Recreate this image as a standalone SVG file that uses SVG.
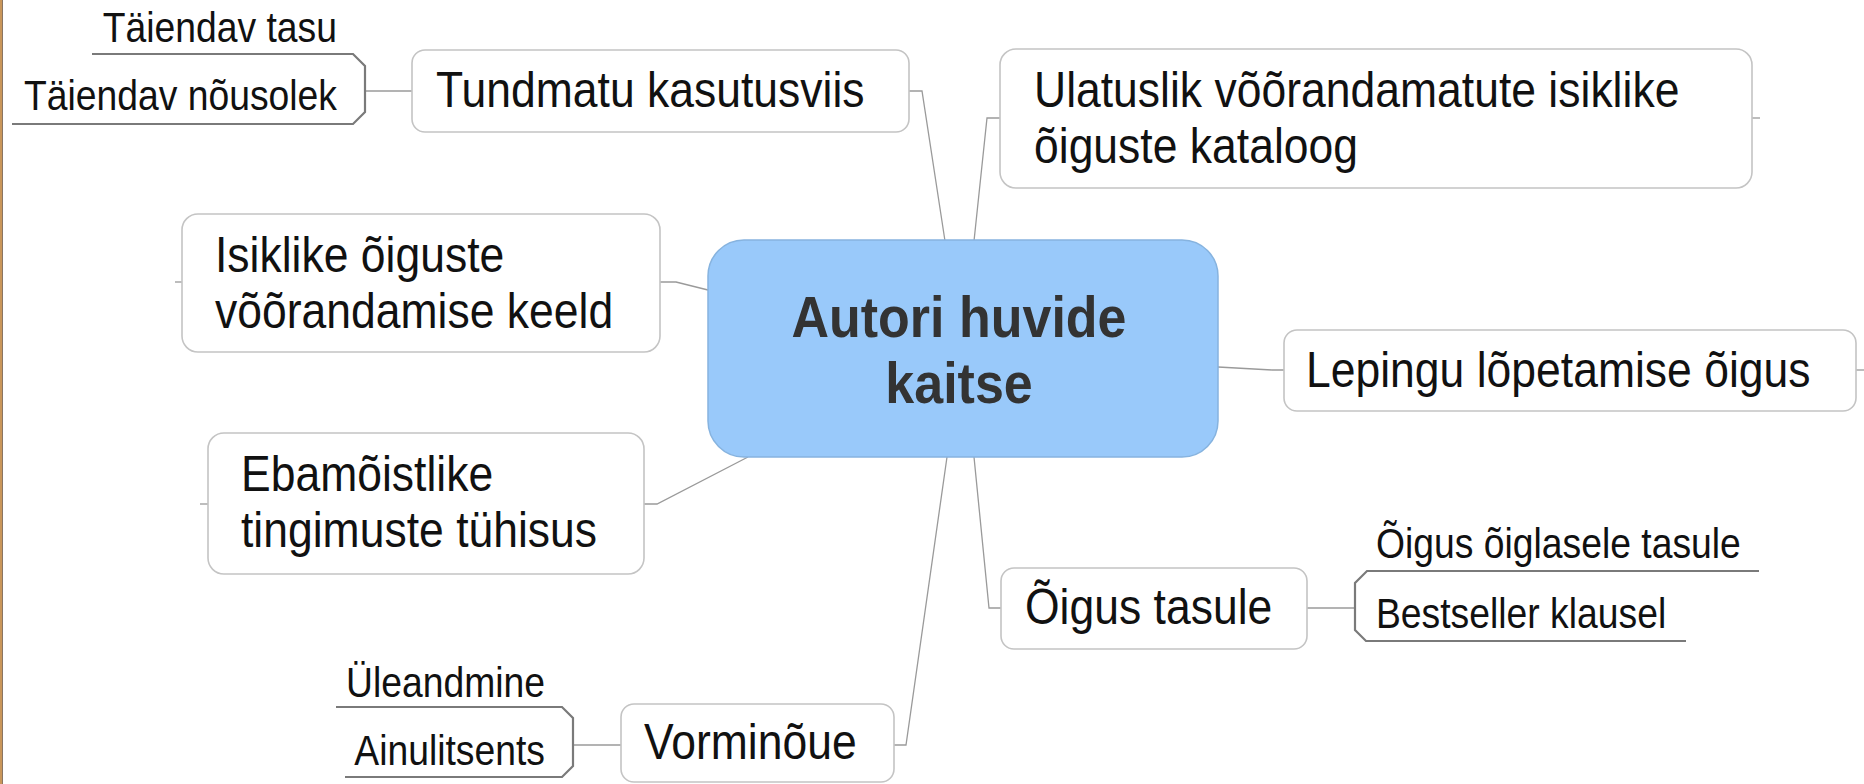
<svg xmlns="http://www.w3.org/2000/svg" width="1864" height="784" viewBox="0 0 1864 784">
<style>
.bg{fill:#ffffff}
.node rect{fill:#ffffff;stroke:#c4c4c4;stroke-width:1.6}
.node text{font-family:"Liberation Sans",Arial,sans-serif;font-size:44.5px;fill:#111111}
.child text{font-family:"Liberation Sans",Arial,sans-serif;font-size:37.3px;fill:#111111}
.child path{fill:none;stroke:#7a7a7a;stroke-width:2.2}
.conn path{fill:none;stroke:#9a9a9a;stroke-width:1.3}
.stub{fill:none;stroke:#808080;stroke-width:2}
#center rect{fill:#99c9fa;stroke:#86b3df;stroke-width:1.5}
#center text{font-family:"Liberation Sans",Arial,sans-serif;font-size:52px;font-weight:bold;fill:#333333;text-anchor:middle}
</style>
<rect class="bg" x="0" y="0" width="1864" height="784"/>
<rect x="0" y="0" width="2" height="784" fill="#c9965a"/>
<rect x="2" y="0" width="1" height="784" fill="#8a7563"/>

<g id="connectors" class="conn">
  <path d="M945,241 L922,91 H909"/>
  <path d="M974,241 L987,118 H1000"/>
  <path d="M708,290 L676,282 H660"/>
  <path d="M1218,367 L1272,370 H1284"/>
  <path d="M748,457 L657,504 H644"/>
  <path d="M974,457 L989,608 H1001"/>
  <path d="M947,457 L906,745 H894"/>
  <path class="stub" d="M1752,118 H1760"/>
  <path class="stub" d="M182,282 H175"/>
  <path class="stub" d="M1856,370 H1864"/>
  <path class="stub" d="M208,504 H200"/>
  <path class="stub" d="M412,91 H366"/>
  <path class="stub" d="M1307,608 H1355"/>
  <path class="stub" d="M621,745 H573"/>
</g>

<g id="center">
  <rect x="708" y="240" width="510" height="217" rx="36" ry="36"/>
  <text transform="translate(959,337) scale(1,1.12)">Autori huvide</text>
  <text transform="translate(959,403) scale(1,1.12)">kaitse</text>
</g>

<g id="n-tundmatu" class="node">
  <rect x="412" y="50" width="497" height="82" rx="13"/>
  <text transform="translate(436,107) scale(1,1.12)">Tundmatu kasutusviis</text>
</g>
<g id="n-tundmatu-children" class="child">
  <path d="M92,54 H353 L365,66 V112 L353,124 H12"/>
  <text transform="translate(337,42) scale(1,1.12)" text-anchor="end">Täiendav tasu</text>
  <text transform="translate(337,110) scale(1,1.12)" text-anchor="end">Täiendav nõusolek</text>
</g>

<g id="n-ulatuslik" class="node">
  <rect x="1000" y="49" width="752" height="139" rx="16"/>
  <text transform="translate(1034,107) scale(1,1.12)">Ulatuslik võõrandamatute isiklike</text>
  <text transform="translate(1034,163) scale(1,1.12)">õiguste kataloog</text>
</g>

<g id="n-isiklike" class="node">
  <rect x="182" y="214" width="478" height="138" rx="16"/>
  <text transform="translate(215,272) scale(1,1.12)">Isiklike õiguste</text>
  <text transform="translate(215,328) scale(1,1.12)">võõrandamise keeld</text>
</g>

<g id="n-lepingu" class="node">
  <rect x="1284" y="330" width="572" height="81" rx="13"/>
  <text transform="translate(1306,387) scale(1,1.12)">Lepingu lõpetamise õigus</text>
</g>

<g id="n-ebamoistlike" class="node">
  <rect x="208" y="433" width="436" height="141" rx="16"/>
  <text transform="translate(241,491) scale(1,1.12)">Ebamõistlike</text>
  <text transform="translate(241,547) scale(1,1.12)">tingimuste tühisus</text>
</g>

<g id="n-oigus-tasule" class="node">
  <rect x="1001" y="568" width="306" height="81" rx="13"/>
  <text transform="translate(1025,624) scale(1,1.12)">Õigus tasule</text>
</g>
<g id="n-oigus-tasule-children" class="child">
  <path d="M1759,571 H1367 L1355,583 V630 L1366,641 H1686"/>
  <text transform="translate(1376,558) scale(1,1.12)">Õigus õiglasele tasule</text>
  <text transform="translate(1376,628) scale(1,1.12)">Bestseller klausel</text>
</g>

<g id="n-vorminoue" class="node">
  <rect x="621" y="704" width="273" height="78" rx="13"/>
  <text transform="translate(644,759) scale(1,1.12)">Vorminõue</text>
</g>
<g id="n-vorminoue-children" class="child">
  <path d="M336,707 H562 L573,718 V766 L562,777 H345"/>
  <text transform="translate(545,697) scale(1,1.12)" text-anchor="end">Üleandmine</text>
  <text transform="translate(545,765) scale(1,1.12)" text-anchor="end">Ainulitsents</text>
</g>
</svg>
